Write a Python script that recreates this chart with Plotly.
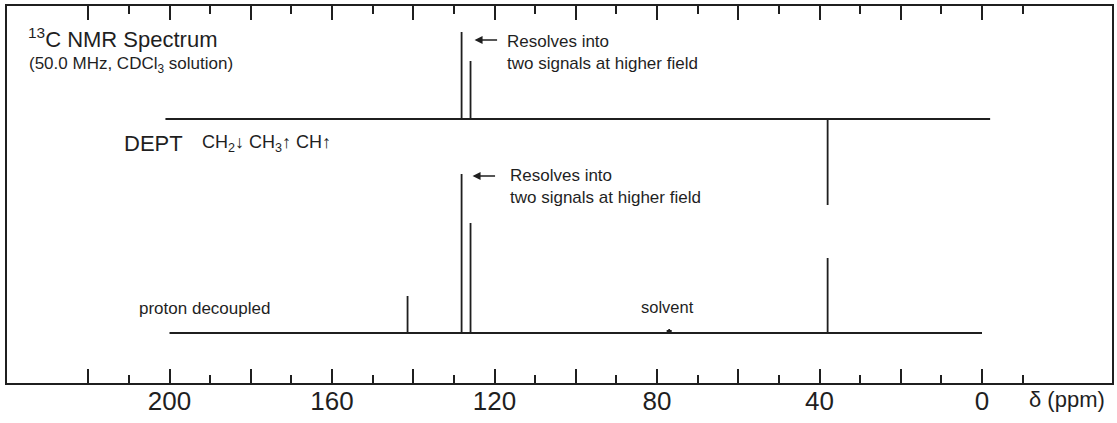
import plotly.graph_objects as go

# ---- data ----
# proton-decoupled 13C spectrum
pd_ppm = [141.4, 128.1, 125.9, 38.0]
pd_height = [37, 159, 110, 75]
solvent_ppm = [77.4, 77.0, 76.6]
solvent_height = [3, 4, 3]
# DEPT spectrum (CH up, CH2 down)
dept_ppm = [128.1, 125.9, 38.0]
dept_height = [87, 58, -86]

# baselines and offsets (in axis units)
pd_range = [200, 0]
dept_range = [201, -2]
pd_offset = 50
dept_offset = 264

labeled_ticks = [200, 160, 120, 80, 40, 0]
labeled_text = ["200", "160", "120", "80", "40", "0"]
unlabeled_major_ticks = [220, 180, 140, 100, 60, 20]
minor_ticks = [210, 190, 170, 150, 130, 110, 90, 70, 50, 30, 10, -10]

INK = "#1f1f1f"
FONT = "Liberation Sans, Arial, Helvetica, sans-serif"
XRANGE = [240, -32]


def stick_path(rng, ppms, heights, base):
    pairs = sorted(zip(ppms, heights), key=lambda t: -t[0])
    xs, ys = [rng[0]], [base]
    for p, h in pairs:
        xs += [p, p, p]
        ys += [base, base + h, base]
    xs.append(rng[1])
    ys.append(base)
    return xs, ys


fig = go.Figure()

x1, y1 = stick_path(pd_range, pd_ppm + solvent_ppm, pd_height + solvent_height, pd_offset)
fig.add_trace(go.Scatter(x=x1, y=y1, mode="lines", line=dict(color=INK, width=1.8),
                         hoverinfo="skip", showlegend=False))
x2, y2 = stick_path(dept_range, dept_ppm, dept_height, dept_offset)
fig.add_trace(go.Scatter(x=x2, y=y2, mode="lines", line=dict(color=INK, width=1.8),
                         hoverinfo="skip", showlegend=False))
# invisible trace to anchor the secondary tick axis
fig.add_trace(go.Scatter(x=[pd_range[0]], y=[pd_offset], xaxis="x2", mode="markers",
                         marker=dict(opacity=0), hoverinfo="skip", showlegend=False))

ann = []
def text(x, y, t, size, **kw):
    ann.append(dict(x=x, y=y, xref="x", yref="y", text=t, showarrow=False,
                    xanchor="left", yanchor="middle", align="left",
                    font=dict(family=FONT, size=size, color=INK), **kw))

text(235.3, 345, "<sup>13</sup>C NMR Spectrum", 22)
text(235.0, 318, "(50.0 MHz, CDCl<sub>3</sub> solution)", 17)
text(211.8, 240, "DEPT", 22)
text(192.4, 240, "CH<sub>2</sub>↓ CH<sub>3</sub>↑ CH↑", 18)
text(117.3, 331, "Resolves into<br>two signals at higher field", 17)
text(116.8, 197, "Resolves into<br>two signals at higher field", 17)
text(207.9, 75, "proton decoupled", 17)
text(84.4, 76, "solvent", 16.5)

for tip_x, tip_y in [(124.9, 343), (125.4, 207)]:
    ann.append(dict(x=tip_x, y=tip_y, xref="x", yref="y", text="", showarrow=True,
                    ax=24, ay=0, arrowhead=2, arrowsize=1, arrowwidth=1.6,
                    arrowcolor=INK))

ann.append(dict(x=-11.0, y=-0.045, xref="x", yref="paper", text="δ (ppm)",
                showarrow=False, xanchor="left", yanchor="middle",
                font=dict(family=FONT, size=22, color=INK)))

fig.update_layout(
    width=1117, height=423,
    margin=dict(l=7, r=3, t=6, b=40),
    paper_bgcolor="white", plot_bgcolor="white",
    annotations=ann,
    xaxis=dict(range=XRANGE, showgrid=False, zeroline=False,
               showline=True, linecolor=INK, linewidth=2, mirror="ticks",
               ticks="inside", ticklen=14, tickwidth=2, tickcolor=INK,
               tickmode="array", tickvals=labeled_ticks, ticktext=labeled_text,
               ticklabelstandoff=-6,
               tickfont=dict(family=FONT, size=26, color=INK),
               minor=dict(tickmode="array", tickvals=minor_ticks, ticks="inside",
                          ticklen=8, tickwidth=2, tickcolor=INK, showgrid=False)),
    xaxis2=dict(range=XRANGE, overlaying="x", anchor="y", side="bottom",
                showgrid=False, zeroline=False, showline=False, mirror="ticks",
                ticks="inside", ticklen=14, tickwidth=2, tickcolor=INK,
                tickmode="array", tickvals=unlabeled_major_ticks,
                showticklabels=False),
    yaxis=dict(range=[0, 377], showgrid=False, zeroline=False, showticklabels=False,
               showline=True, linecolor=INK, linewidth=2, mirror=True, ticks=""),
)

fig.write_html("out.html", config={"displayModeBar": False},
               post_script="document.body.style.margin='0';document.body.style.padding='0';")
